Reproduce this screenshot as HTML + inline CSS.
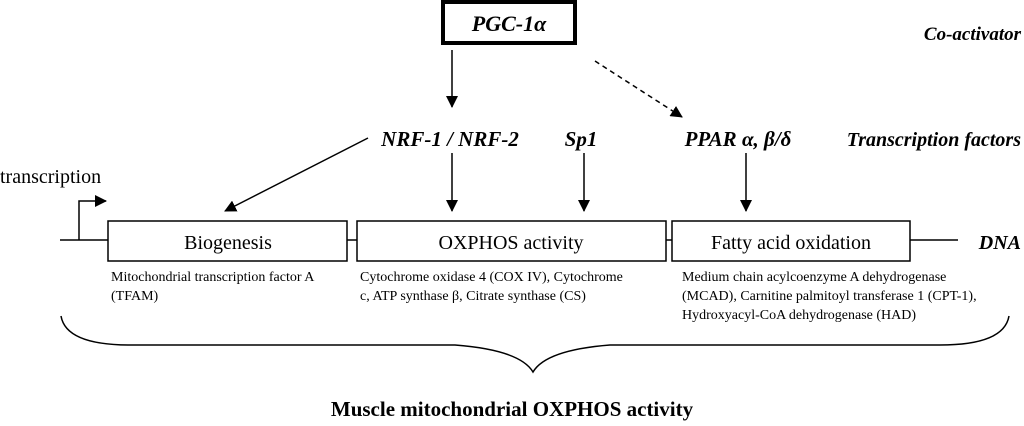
<!DOCTYPE html>
<html><head><style>
body{margin:0;background:#fff;}
svg{display:block;font-family:"Liberation Serif",serif;}
</style></head><body>
<svg width="1024" height="426" viewBox="0 0 1024 426" xmlns="http://www.w3.org/2000/svg">
<defs><marker id="a" markerWidth="12" markerHeight="12" refX="11" refY="6" orient="auto" markerUnits="userSpaceOnUse"><path d="M0,0 L12,6 L0,12 z" fill="#000"/></marker></defs>
<rect x="443" y="2" width="132" height="41" fill="#fff" stroke="#000" stroke-width="4"/>
<text x="509" y="31" font-size="22" font-weight="bold" font-style="italic" text-anchor="middle">PGC-1α</text>
<text x="1021" y="40" font-size="19" font-weight="bold" font-style="italic" text-anchor="end">Co-activator</text>
<line x1="452" y1="50" x2="452" y2="107" stroke="#000" stroke-width="1.5" marker-end="url(#a)"/>
<line x1="595" y1="61" x2="682" y2="117" stroke="#000" stroke-width="1.5" stroke-dasharray="5,4" marker-end="url(#a)"/>
<text x="450" y="146" font-size="21" font-weight="bold" font-style="italic" text-anchor="middle">NRF-1 / NRF-2</text>
<text x="581" y="146" font-size="21" font-weight="bold" font-style="italic" text-anchor="middle">Sp1</text>
<text x="738" y="146" font-size="21" font-weight="bold" font-style="italic" text-anchor="middle">PPAR α, β/δ</text>
<text x="1021" y="146" font-size="20" font-weight="bold" font-style="italic" text-anchor="end">Transcription factors</text>
<line x1="368" y1="138" x2="225" y2="211" stroke="#000" stroke-width="1.5" marker-end="url(#a)"/>
<line x1="452" y1="153" x2="452" y2="211" stroke="#000" stroke-width="1.5" marker-end="url(#a)"/>
<line x1="584" y1="153" x2="584" y2="211" stroke="#000" stroke-width="1.5" marker-end="url(#a)"/>
<line x1="746" y1="153" x2="746" y2="211" stroke="#000" stroke-width="1.5" marker-end="url(#a)"/>
<text x="0" y="183" font-size="20">transcription</text>
<polyline points="79,240 79,201 106,201" fill="none" stroke="#000" stroke-width="1.5" marker-end="url(#a)"/>
<line x1="60" y1="240" x2="108" y2="240" stroke="#000" stroke-width="1.5"/>
<line x1="347" y1="240" x2="357" y2="240" stroke="#000" stroke-width="1.5"/>
<line x1="666" y1="240" x2="672" y2="240" stroke="#000" stroke-width="1.5"/>
<line x1="910" y1="240" x2="958" y2="240" stroke="#000" stroke-width="1.5"/>
<rect x="108" y="221" width="239" height="40" fill="#fff" stroke="#000" stroke-width="1.5"/>
<rect x="357" y="221" width="309" height="40" fill="#fff" stroke="#000" stroke-width="1.5"/>
<rect x="672" y="221" width="238" height="40" fill="#fff" stroke="#000" stroke-width="1.5"/>
<text x="228" y="249" font-size="20" text-anchor="middle">Biogenesis</text>
<text x="511" y="249" font-size="20" text-anchor="middle">OXPHOS activity</text>
<text x="791" y="249" font-size="20" text-anchor="middle">Fatty acid oxidation</text>
<text x="1021" y="249" font-size="20" font-weight="bold" font-style="italic" text-anchor="end">DNA</text>
<g font-size="14">
<text x="111" y="281">Mitochondrial transcription factor A</text>
<text x="111" y="300">(TFAM)</text>
<text x="360" y="281">Cytochrome oxidase 4 (COX IV), Cytochrome</text>
<text x="360" y="300">c, ATP synthase β,  Citrate synthase (CS)</text>
<text x="682" y="281">Medium chain acylcoenzyme A dehydrogenase</text>
<text x="682" y="300">(MCAD), Carnitine palmitoyl transferase 1 (CPT-1),</text>
<text x="682" y="319">Hydroxyacyl-CoA dehydrogenase (HAD)</text>
</g>
<path d="M61,316 Q66,345 130,345 L455,345 Q520,350 533,372 Q546,350 610,345 L940,345 Q1004,345 1009,316" fill="none" stroke="#000" stroke-width="1.5"/>
<text x="512" y="416" font-size="21" font-weight="bold" text-anchor="middle">Muscle mitochondrial OXPHOS activity</text>
</svg>
</body></html>
